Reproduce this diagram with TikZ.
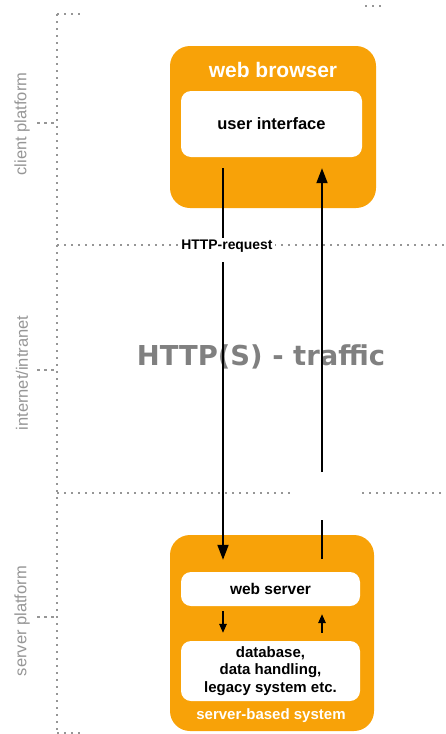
\documentclass[tikz,border=0pt]{standalone}
\usepackage{fontspec}
\setmainfont{Liberation Sans}
\newfontfamily\bigfont{DejaVu Sans}
\usetikzlibrary{arrows.meta}
\definecolor{boxorange}{RGB}{248,162,8}
\definecolor{labelgray}{RGB}{150,150,150}
\definecolor{dotgray}{RGB}{150,150,150}
\definecolor{trafficgray}{RGB}{128,128,128}
\tikzset{
  outerbox/.style={fill=boxorange, rounded corners=20pt, inner sep=0pt},
  innerbox/.style={fill=white, rounded corners=10pt, inner sep=0pt, align=center, font=\bfseries\fontsize{15}{17.5}\selectfont},
  sidelabel/.style={rotate=90, text=labelgray, font=\fontsize{16.5}{18}\selectfont, inner sep=0pt},
  dotline/.style={dotgray, line width=2pt, dash pattern=on 2pt off 5pt},
  tickline/.style={dotgray, line width=1.6pt, dash pattern=on 3pt off 4pt},
  flow/.style={line width=1.8pt, -{Triangle[length=15pt,width=11pt]}},
  plainflow/.style={line width=1.8pt},
  smallflow/.style={line width=1.5pt, -{Triangle[length=9pt,width=7.5pt]}},
}
\begin{document}
\begin{tikzpicture}[x=1pt, y=-1pt]
\useasboundingbox (0,0) rectangle (446,734);

% platform separators
\draw[dotline] (57,14) -- (57,734);
\draw[dotline] (57,14) -- (80,14);
\draw[dotline] (365,6) -- (382,6);
\draw[dotline] (57,245) -- (446,245);
\draw[dotline] (57,493) -- (290,493);
\draw[dotline] (362,493) -- (446,493);
\draw[dotline] (57,733) -- (80,733);

% tier ticks and labels
\foreach \ty in {123,370,617} \draw[tickline] (37,\ty) -- (56,\ty);
\node[sidelabel] (lclient) at (22,124) {client platform};
\node[sidelabel] (lnet) at (22,373) {internet/intranet};
\node[sidelabel] (lserver) at (22,621) {server platform};

% client side
\node[outerbox, minimum width=206pt, minimum height=162pt] (browser) at (273,127) {};
\node[text=white, font=\bfseries\fontsize{21}{24}\selectfont] (btitle) at (273,70) {web browser};
\node[innerbox, minimum width=181pt, minimum height=66pt, font=\bfseries\fontsize{16.5}{19}\selectfont] (ui) at (271.5,124) {user interface};

% server side
\node[outerbox, minimum width=204pt, minimum height=196pt] (server) at (272,633) {};
\node[innerbox, minimum width=179pt, minimum height=34pt, font=\bfseries\fontsize{15.5}{18}\selectfont] (ws) at (270.5,589) {web server};
\node[innerbox, minimum width=179pt, minimum height=60pt] (db) at (270.5,671) {database,\\data handling,\\legacy system etc.};
\node[text=white, font=\bfseries\fontsize{15}{17}\selectfont] (stitle) at (271,716) {server-based system};

% traffic caption
\node[text=trafficgray, font=\bigfont\bfseries\fontsize{27.4}{30}\selectfont] (traffic) at (261,357) {HTTP(S) - traffic};

% request path
\node[fill=white, inner sep=2pt, font=\bfseries\fontsize{13.9}{16}\selectfont] (req) at (227,246) {HTTP-request};
\coordinate (reqtop) at (223,168);
\coordinate (reqbreak) at (223,262);
\draw[plainflow] (reqtop) -- (req.north -| reqtop);
\draw[flow] (reqbreak) -- ([yshift=12pt]ws.north -| reqtop);

% response path
\coordinate (resbase) at (322,559);
\coordinate (resgapbot) at (322,520);
\coordinate (resgaptop) at (322,472);
\draw[plainflow] (resbase) -- (resgapbot);
\draw[flow] (resgaptop) -- ([yshift=-11pt]ui.south -| resgaptop);

% inner server traffic
\draw[smallflow] ([yshift=-5pt]ws.south -| reqtop) -- ([yshift=8pt]db.north -| reqtop);
\draw[smallflow] ([yshift=8pt]db.north -| resbase) -- ([yshift=-8pt]ws.south -| resbase);
\end{tikzpicture}
\end{document}
